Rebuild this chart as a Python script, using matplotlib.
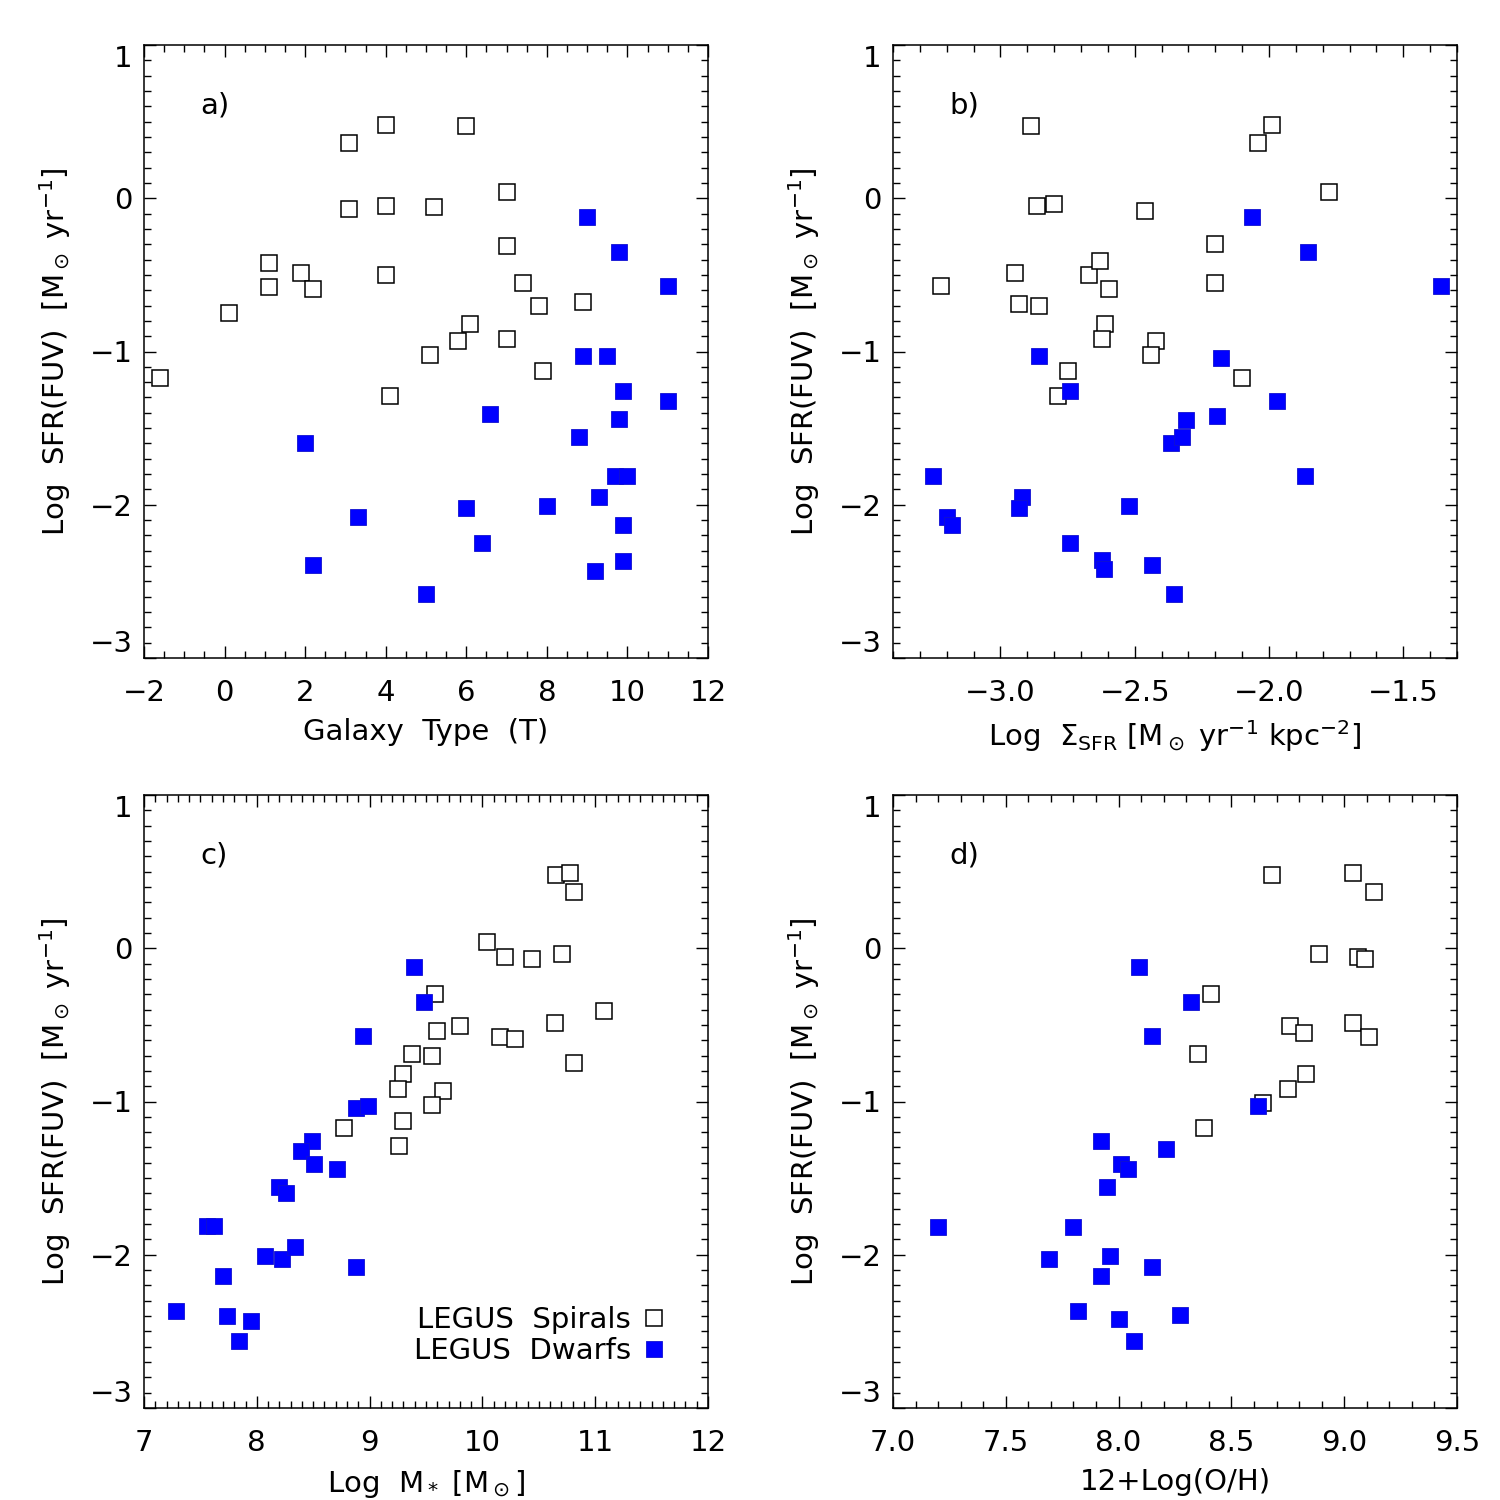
import numpy as np
import matplotlib
matplotlib.use("Agg")
import matplotlib.pyplot as plt
from matplotlib.ticker import MultipleLocator, FuncFormatter
from matplotlib.lines import Line2D

plt.rcParams['font.family'] = ['DejaVu Sans']
plt.rcParams['mathtext.fontset'] = 'dejavusans'
plt.rcParams['axes.unicode_minus'] = True

# ---- panel a: galaxy type (T) ----
type_sp = [-1.6, 0.1, 1.1, 1.1, 1.9, 2.2, 3.1, 3.1, 4.0, 4.0, 4.0, 4.1,
           5.2, 5.1, 6.0, 6.1, 5.8, 7.0, 7.0, 7.0, 7.4, 7.8, 7.9, 8.9]
sfr_type_sp = [-1.17, -0.75, -0.42, -0.58, -0.49, -0.59, 0.36, -0.07, 0.48, -0.05, -0.50, -1.29,
               -0.06, -1.02, 0.47, -0.82, -0.93, 0.04, -0.31, -0.92, -0.55, -0.70, -1.13, -0.68]
type_dw = [9.0, 9.8, 11.0, 8.9, 9.5, 9.9, 11.0, 6.6, 9.8, 2.0, 8.8, 9.7,
           10.0, 9.3, 3.3, 6.0, 8.0, 6.4, 9.9, 2.2, 9.9, 9.2, 5.0]
sfr_type_dw = [-0.12, -0.35, -0.57, -1.03, -1.03, -1.26, -1.32, -1.41, -1.44, -1.60, -1.56, -1.81,
               -1.81, -1.95, -2.08, -2.02, -2.01, -2.25, -2.13, -2.39, -2.37, -2.43, -2.58]

# ---- panel b: log Sigma_SFR ----
sig_sp = [-3.22, -2.885, -2.865, -2.80, -2.945, -2.93, -2.855, -2.67, -2.63, -2.595, -2.61, -2.62,
          -2.75, -2.785, -2.46, -2.42, -2.44, -2.20, -2.20, -2.10, -2.04, -1.99, -1.775]
sfr_sig_sp = [-0.57, 0.47, -0.05, -0.04, -0.49, -0.69, -0.70, -0.50, -0.41, -0.59, -0.82, -0.92,
              -1.13, -1.29, -0.08, -0.93, -1.02, -0.30, -0.55, -1.17, 0.36, 0.48, 0.04]
sig_dw = [-2.065, -1.855, -1.36, -2.855, -2.18, -2.74, -1.97, -2.195, -2.31, -2.365, -2.325, -3.25,
          -1.865, -2.92, -2.93, -3.20, -3.18, -2.52, -2.74, -2.62, -2.615, -2.435, -2.355]
sfr_sig_dw = [-0.12, -0.35, -0.57, -1.03, -1.04, -1.26, -1.32, -1.42, -1.45, -1.60, -1.56, -1.81,
              -1.81, -1.95, -2.02, -2.08, -2.13, -2.01, -2.25, -2.36, -2.42, -2.39, -2.58]

# ---- panel c: log stellar mass ----
mass_sp = [10.65, 10.78, 10.81, 10.04, 10.20, 10.44, 10.71, 9.58, 9.60, 9.80, 10.16, 10.29,
           10.64, 11.08, 9.38, 9.55, 10.81, 9.30, 9.25, 9.65, 9.55, 8.77, 9.30, 9.26]
sfr_mass_sp = [0.48, 0.49, 0.37, 0.04, -0.06, -0.07, -0.04, -0.30, -0.54, -0.51, -0.58, -0.59,
               -0.49, -0.41, -0.69, -0.70, -0.75, -0.82, -0.92, -0.93, -1.02, -1.17, -1.13, -1.29]
mass_dw = [9.39, 9.48, 8.94, 8.88, 8.99, 8.49, 8.39, 8.51, 8.71, 8.20, 8.26, 7.56,
           7.62, 8.07, 8.22, 8.34, 8.88, 7.70, 7.28, 7.74, 7.95, 7.84]
sfr_mass_dw = [-0.12, -0.35, -0.57, -1.04, -1.03, -1.26, -1.32, -1.41, -1.44, -1.56, -1.60, -1.81,
               -1.81, -2.01, -2.03, -1.95, -2.08, -2.14, -2.37, -2.40, -2.43, -2.56]

# ---- panel d: 12+log(O/H) ----
oh_sp = [8.68, 9.04, 9.13, 8.89, 9.06, 9.09, 8.41, 8.76, 8.82, 9.04, 9.11, 8.35,
         8.83, 8.75, 8.64, 8.38]
sfr_oh_sp = [0.48, 0.49, 0.37, -0.04, -0.06, -0.07, -0.30, -0.51, -0.55, -0.49, -0.58, -0.69,
             -0.82, -0.92, -1.01, -1.17]
oh_dw = [8.09, 8.32, 8.15, 8.62, 7.92, 8.21, 8.01, 8.04, 7.95, 7.20, 7.80, 7.69,
         7.96, 7.92, 8.15, 7.82, 8.00, 8.27, 8.07]
sfr_oh_dw = [-0.12, -0.35, -0.57, -1.03, -1.26, -1.31, -1.41, -1.44, -1.56, -1.82, -1.82, -2.03,
             -2.01, -2.14, -2.08, -2.37, -2.42, -2.39, -2.56]

ylab = r'Log  SFR(FUV)  [M$_\odot$ yr$^{-1}$]'
fs = 21


def minus_fmt(fmt):
    # unicode minus like the original tick labels
    return FuncFormatter(lambda v, p: (fmt % v).replace('-', '\u2212'))


fig = plt.figure(figsize=(15, 15), dpi=100)
W, H = 564 / 1500, 613 / 1500
pos = [(144 / 1500, 1 - 658 / 1500), (893 / 1500, 1 - 658 / 1500),
       (144 / 1500, 1 - 1408 / 1500), (893 / 1500, 1 - 1408 / 1500)]

panels = [
    (type_sp, sfr_type_sp, type_dw, sfr_type_dw, (-2, 12), 2, 0.5, '%d', 'Galaxy  Type  (T)', 'a)'),
    (sig_sp, sfr_sig_sp, sig_dw, sfr_sig_dw, (-3.4, -1.3), 0.5, 0.1, '%.1f',
     r'Log  $\Sigma_{\rm SFR}$ [M$_\odot$ yr$^{-1}$ kpc$^{-2}$]', 'b)'),
    (mass_sp, sfr_mass_sp, mass_dw, sfr_mass_dw, (7, 12), 1, 0.1, '%d', r'Log  M$_*$ [M$_\odot$]', 'c)'),
    (oh_sp, sfr_oh_sp, oh_dw, sfr_oh_dw, (7.0, 9.5), 0.5, 0.1, '%.1f', '12+Log(O/H)', 'd)'),
]

for i, (xs, ys, xd, yd, xlim, maj, mnr, fmt, xlab, tag) in enumerate(panels):
    ax = fig.add_axes([pos[i][0], pos[i][1], W, H])
    ax.plot(xs, ys, 's', ms=11, mfc='white', mec='black', mew=1.1, ls='none')
    ax.plot(xd, yd, 's', ms=11, mfc='#0000ff', mec='#1010d0', mew=0.6, ls='none')
    ax.set_xlim(*xlim)
    ax.set_ylim(-3, 1)
    ax.xaxis.set_major_locator(MultipleLocator(maj))
    ax.xaxis.set_minor_locator(MultipleLocator(mnr))
    ax.xaxis.set_major_formatter(minus_fmt(fmt))
    ax.yaxis.set_major_locator(MultipleLocator(1))
    ax.yaxis.set_minor_locator(MultipleLocator(0.1))
    ax.yaxis.set_major_formatter(minus_fmt('%d'))
    ax.tick_params(which='both', direction='in', top=True, right=True, width=1.0)
    ax.tick_params(which='major', length=8.6)
    ax.tick_params(which='minor', length=5)
    ax.tick_params(axis='x', which='major', pad=15, labelsize=fs)
    ax.tick_params(axis='y', which='major', pad=8, labelsize=fs)
    for sp in ax.spines.values():
        sp.set_linewidth(1.1)
    ax.set_xlabel(xlab, fontsize=fs, labelpad=8)
    ax.set_ylabel(ylab, fontsize=fs, labelpad=12)
    ax.text(0.10, 0.902, tag, transform=ax.transAxes, fontsize=fs, va='center', ha='left')
    fig.canvas.draw()
    for t in ax.yaxis.get_major_ticks():
        v = t.get_loc()
        if abs(v - 1) < 1e-6:
            t.label1.set_va('top')
        elif abs(v + 3) < 1e-6:
            t.label1.set_va('bottom')
    if tag == 'c)':
        handles = [Line2D([], [], marker='s', ls='none', ms=11, mfc='white', mec='black', mew=1.1),
                   Line2D([], [], marker='s', ls='none', ms=11, mfc='#0000ff', mec='#1010d0', mew=0.6)]
        ax.legend(handles, ['LEGUS  Spirals', 'LEGUS  Dwarfs'], loc='lower right',
                  bbox_to_anchor=(0.967, 0.027), frameon=False, markerfirst=False,
                  fontsize=fs, handlelength=0.6, handletextpad=0.5, labelspacing=0.1)

fig.savefig('out.png', dpi=100)
